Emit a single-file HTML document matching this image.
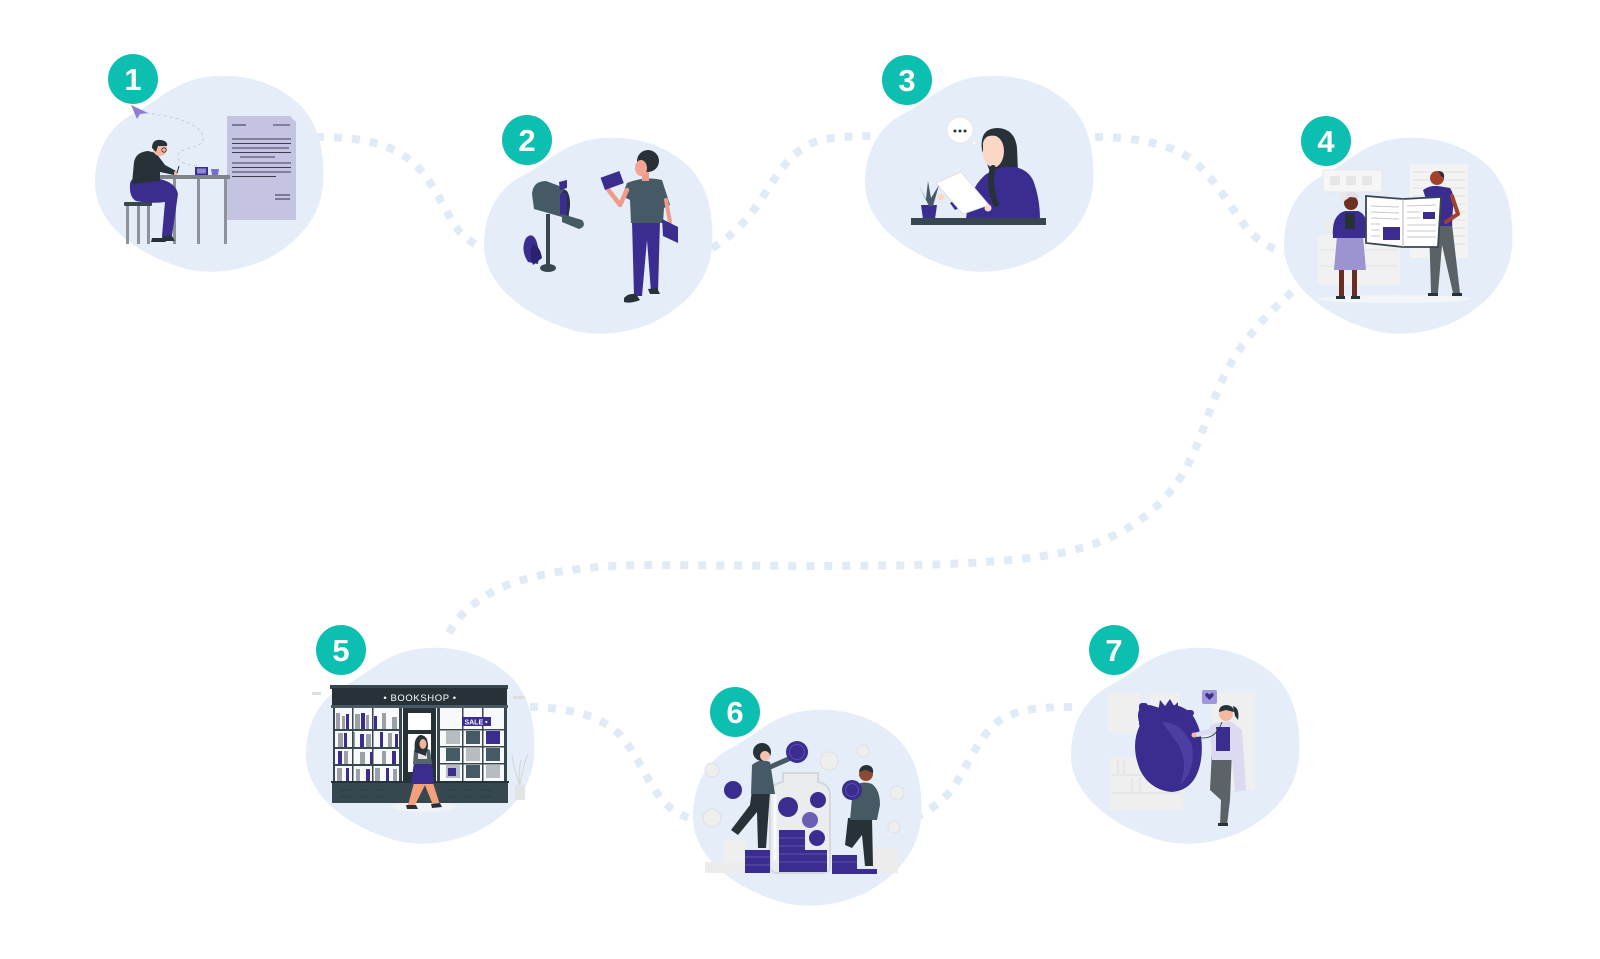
<!DOCTYPE html>
<html><head><meta charset="utf-8"><style>
html,body{margin:0;padding:0;background:#fff;}
svg{display:block}
text{font-family:"Liberation Sans",sans-serif}
</style></head><body>
<svg width="1600" height="959" viewBox="0 0 1600 959" xmlns="http://www.w3.org/2000/svg">
<defs>
<path id="blob" d="M0,108 C0,75 15,50 40,38 C60,28 75,10 105,3 C140,-4 180,5 205,30 C225,50 230,80 228,110 C225,145 200,170 170,185 C140,198 110,200 85,192 C45,180 0,150 0,108 Z"/>
</defs>
<rect width="1600" height="959" fill="#fff"/>

<!-- connectors -->
<g fill="none" stroke="#e0ebf8" stroke-width="8" stroke-dasharray="8 10">
<path d="M316,137 C350,137 385,140 410,160 C435,180 445,215 460,232 C468,240 475,245 484,249"/>
<path d="M712,248 C730,238 748,220 762,198 C780,170 795,145 825,139 C845,136 860,136 878,136"/>
<path d="M1095,137 C1130,137 1170,142 1195,162 C1220,185 1235,215 1250,232 C1260,242 1270,248 1284,253"/>
<path d="M1292,292 C1260,320 1235,350 1220,385 C1205,420 1195,460 1175,485 C1150,520 1110,545 1050,555 C990,565 900,566 800,566 L650,565 C580,565 530,575 500,588 C475,600 458,615 448,635"/>
<path d="M530,707 C570,708 600,715 620,735 C640,758 648,785 665,803 C672,810 680,815 692,819"/>
<path d="M915,818 C930,810 945,800 955,785 C970,760 980,735 1000,720 C1020,708 1045,707 1073,707"/>
</g>

<!-- blobs -->
<g fill="#e4edf8">
<use href="#blob" x="95" y="75"/>
<use href="#blob" x="484" y="137"/>
<use href="#blob" x="865" y="75"/>
<use href="#blob" x="1284" y="137"/>
<use href="#blob" x="306" y="647"/>
<use href="#blob" x="693" y="709"/>
<use href="#blob" x="1071" y="647"/>
</g>

<!-- ===== Illustration 1 ===== -->
<g>
<path d="M146,113 C175,116 200,124 203,136 C206,148 188,146 180,152 C172,160 186,166 200,166" fill="none" stroke="#c3ccd8" stroke-width="1" stroke-dasharray="3 3"/>
<polygon points="131,105 148,113 140,114 137,119" fill="#8b7fd3"/>
<path d="M227,116 H290 L296,122 V220 H227 Z" fill="#c5c3e2"/>
<g stroke="#3d3d52" stroke-width="1.1">
<line x1="232" y1="125" x2="246" y2="125"/><line x1="273" y1="125" x2="290" y2="125"/>
<line x1="232" y1="139" x2="291" y2="139"/>
<line x1="232" y1="143.5" x2="291" y2="143.5"/>
<line x1="232" y1="148" x2="289" y2="148"/>
<line x1="232" y1="152.5" x2="291" y2="152.5"/>
<line x1="240" y1="157" x2="275" y2="157"/>
<line x1="232" y1="163" x2="291" y2="163"/>
<line x1="232" y1="167.5" x2="291" y2="167.5"/>
<line x1="232" y1="172" x2="291" y2="172"/>
<line x1="232" y1="176.5" x2="276" y2="176.5"/>
<line x1="275" y1="195" x2="290" y2="195"/>
<line x1="275" y1="199" x2="290" y2="199"/>
</g>
<rect x="143" y="175" width="87" height="4" fill="#7d8489"/>
<rect x="147" y="179" width="3" height="65" fill="#8d9398"/>
<rect x="173" y="179" width="3" height="65" fill="#8d9398"/>
<rect x="197" y="179" width="3" height="65" fill="#8d9398"/>
<rect x="224" y="179" width="3" height="65" fill="#8d9398"/>
<rect x="124" y="202" width="28" height="4" rx="1" fill="#37474f"/>
<rect x="126" y="206" width="3" height="38" fill="#8d9398"/>
<rect x="137" y="206" width="3" height="38" fill="#8d9398"/>
<rect x="147" y="206" width="3" height="38" fill="#8d9398"/>
<path d="M130,184 Q131,177 140,177 L160,179 Q176,183 178,194 L172,236 L162,236 L165,202 Q150,204 136,201 Q129,197 130,184 Z" fill="#3a2d8d"/>
<path d="M132,184 L134,162 Q136,152 148,151 L156,153 L165,165 L176,171 L174,175 L160,172 L160,181 Z" fill="#263238"/>
<circle cx="160" cy="149" r="7" fill="#f2b79e"/>
<path d="M152,148 Q152,139 161,140 Q168,141 167,146 L158,146 L156,152 Z" fill="#263238"/>
<circle cx="164" cy="150" r="2.2" fill="none" stroke="#263238" stroke-width="0.8"/>
<circle cx="176" cy="173" r="2" fill="#f2b79e"/>
<line x1="177" y1="173" x2="179" y2="166" stroke="#263238" stroke-width="1"/>
<path d="M152,238 L164,238 L166,242 L151,242 Z" fill="#263238"/>
<path d="M162,236 L172,236 L175,241 L163,241 Z" fill="#263238"/>
<rect x="195" y="167" width="13" height="8" fill="#3b2d8f"/>
<rect x="197" y="168.5" width="9" height="5" fill="#8d8ad0"/>
<path d="M211,169 H219 L218,175 H212 Z" fill="#7b6fcd"/>
</g>

<!-- ===== Illustration 2 ===== -->
<g>
<path d="M528,262 Q520,250 526,238 Q532,232 536,240 Q540,250 538,264 Z" fill="#3b2d8f"/>
<path d="M533,265 Q528,252 533,244 Q540,246 542,258 Z" fill="#2c2170"/>
<rect x="546" y="214" width="4" height="52" fill="#37474f"/>
<ellipse cx="548" cy="268" rx="8" ry="4" fill="#37474f"/>
<path d="M532,194 Q533,181 546,181 L562,187 Q569,192 569,202 L569,219 L534,209 Z" fill="#455a64"/>
<ellipse cx="565" cy="204" rx="5" ry="14" fill="#263238"/>
<rect x="560" y="193" width="7" height="22" rx="2" fill="#3b2d8f"/>
<path d="M562,214 L582,220 Q587,226 579,229 L562,222 Z" fill="#455a64"/>
<polygon points="559,182 567,180 567,188 560,190" fill="#3b2d8f"/>
<!-- man -->
<path d="M632,221 L660,221 L658,292 L651,292 L647,240 L642,296 L634,296 Z" fill="#3b2d8f"/>
<path d="M624,298 Q628,293 636,294 L640,300 Q630,304 624,302 Z" fill="#263238"/>
<path d="M648,289 L657,288 L660,294 L650,294 Z" fill="#263238"/>
<path d="M627,183 Q645,176 662,180 L670,205 L664,208 L663,223 L631,223 L630,200 L622,196 Z" fill="#455a64"/>
<path d="M627,190 L620,205 L607,188" fill="none" stroke="#f09a8a" stroke-width="4.5" stroke-linecap="round" stroke-linejoin="round"/>
<path d="M666,200 L670,222" fill="none" stroke="#f09a8a" stroke-width="4" stroke-linecap="round"/>
<rect x="602" y="174" width="20" height="13" fill="#3b2d8f" transform="rotate(-20 612 180)"/>
<polygon points="662,219 678,227 678,243 663,236" fill="#3b2d8f"/>
<rect x="642" y="172" width="7" height="9" fill="#f09a8a"/>
<ellipse cx="648" cy="161" rx="11" ry="11" fill="#263238"/>
<ellipse cx="641" cy="168" rx="6" ry="8" fill="#f2a591"/>
</g>

<!-- ===== Illustration 3 ===== -->
<g>
<circle cx="960" cy="130" r="13" fill="#fff" stroke="#e6e6e6" stroke-width="1"/>
<circle cx="955" cy="131" r="1.5" fill="#263238"/>
<circle cx="960" cy="131" r="1.5" fill="#263238"/>
<circle cx="965" cy="131" r="1.5" fill="#263238"/>
<circle cx="974" cy="143" r="2" fill="#fff" stroke="#ddd" stroke-width="0.6"/>
<path d="M982,150 Q979,128 998,128 Q1015,129 1017,148 L1018,172 L1004,174 L990,172 Z" fill="#263238"/>
<path d="M966,220 Q968,190 985,175 Q995,168 1005,167 Q1025,165 1033,180 Q1040,198 1040,220 Z" fill="#3b2d8f"/>
<path d="M983,143 Q985,134 996,136 Q1004,140 1004,152 Q1003,165 994,168 Q985,166 983,155 Z" fill="#fbd7c6"/>
<path d="M993,168 Q988,185 996,204" stroke="#263238" stroke-width="6" fill="none" stroke-linecap="round"/>
<path d="M985,195 L955,210 L950,203 L980,186 Z" fill="#3b2d8f"/>
<polygon points="936,183 961,172 989,205 963,214" fill="#fff" stroke="#dcdcdc" stroke-width="0.8"/>
<circle cx="941" cy="197" r="3.5" fill="#fbd7c6"/>
<circle cx="988" cy="208" r="3.5" fill="#fbd7c6"/>
<polygon points="921,205 937,205 935,219 923,219" fill="#3b2d8f"/>
<path d="M929,206 L919,186 L926,199 L928,181 L931,198 L939,185 L933,206 Z" fill="#455a64"/>
<rect x="911" y="218" width="135" height="7" fill="#37474f"/>
</g>

<!-- ===== Illustration 4 ===== -->
<g>
<rect x="1410" y="164" width="58" height="94" fill="#f3f3f3"/>
<g stroke="#e2e2e2" stroke-width="1">
<line x1="1413" y1="172" x2="1465" y2="172"/><line x1="1413" y1="180" x2="1465" y2="180"/>
<line x1="1413" y1="188" x2="1465" y2="188"/><line x1="1413" y1="196" x2="1465" y2="196"/>
<line x1="1413" y1="204" x2="1465" y2="204"/><line x1="1413" y1="212" x2="1465" y2="212"/>
<line x1="1413" y1="220" x2="1465" y2="220"/><line x1="1413" y1="228" x2="1465" y2="228"/>
<line x1="1413" y1="236" x2="1465" y2="236"/><line x1="1413" y1="244" x2="1465" y2="244"/>
</g>
<rect x="1323" y="170" width="59" height="22" fill="#f6f6f6" stroke="#e6e6e6"/>
<rect x="1330" y="176" width="10" height="9" fill="#e6e6e6"/>
<rect x="1346" y="176" width="10" height="9" fill="#e6e6e6"/>
<rect x="1362" y="176" width="10" height="9" fill="#e6e6e6"/>
<rect x="1318" y="235" width="82" height="50" fill="#f1f1f1"/>
<line x1="1320" y1="250" x2="1398" y2="250" stroke="#e4e4e4"/>
<line x1="1320" y1="266" x2="1398" y2="266" stroke="#e4e4e4"/>
<circle cx="1331" cy="227" r="8" fill="#ececec"/>
<ellipse cx="1395" cy="299" rx="76" ry="4" fill="#f3f5f8"/>
<!-- old woman -->
<path d="M1337,236 L1363,236 L1366,270 L1334,270 Z" fill="#9c94d0"/>
<rect x="1339" y="270" width="5" height="27" fill="#6b2c22"/>
<rect x="1352" y="270" width="5" height="27" fill="#6b2c22"/>
<rect x="1336" y="296" width="9" height="3" fill="#263238"/>
<rect x="1351" y="296" width="9" height="3" fill="#263238"/>
<path d="M1333,238 Q1331,215 1345,211 L1358,211 Q1366,214 1367,225 L1365,238 Z" fill="#3b2d8f"/>
<rect x="1345" y="213" width="10" height="16" fill="#263238"/>
<circle cx="1351" cy="203" r="7" fill="#6f3024"/>
<path d="M1343,202 Q1343,192 1352,192 Q1358,193 1359,198 L1350,197 Z" fill="#e0e0e0"/>
<circle cx="1343" cy="196" r="3.5" fill="#e8e8e8"/>
<!-- man -->
<path d="M1429,224 L1452,224 L1460,293 L1453,293 L1442,245 L1438,293 L1431,293 Z" fill="#5a6268"/>
<rect x="1428" y="293" width="10" height="3" fill="#263238"/>
<rect x="1452" y="293" width="10" height="3" fill="#263238"/>
<path d="M1423,190 Q1430,185 1438,186 L1450,188 Q1455,195 1453,208 L1452,226 L1428,226 L1428,205 Z" fill="#3b2d8f"/>
<path d="M1452,196 L1458,214 L1446,222" fill="none" stroke="#a4412e" stroke-width="4" stroke-linecap="round" stroke-linejoin="round"/>
<circle cx="1437" cy="178" r="7" fill="#a4412e"/>
<path d="M1438,171 Q1445,171 1444,178 L1441,176 Z" fill="#263238"/>
<!-- newspaper -->
<path d="M1366,196 L1403,199 L1441,197 L1438,247 L1403,247 L1366,243 Z" fill="#fff" stroke="#37474f" stroke-width="1.8"/>
<line x1="1403" y1="199" x2="1403" y2="247" stroke="#b5b5b5"/>
<g stroke="#c8c8c8" stroke-width="1">
<line x1="1371" y1="206" x2="1399" y2="207"/><line x1="1371" y1="212" x2="1399" y2="213"/>
<line x1="1371" y1="218" x2="1399" y2="219"/><line x1="1371" y1="224" x2="1380" y2="224"/>
<line x1="1371" y1="230" x2="1380" y2="230"/><line x1="1371" y1="236" x2="1380" y2="236"/>
<line x1="1407" y1="206" x2="1436" y2="205"/><line x1="1407" y1="212" x2="1420" y2="212"/>
<line x1="1407" y1="218" x2="1420" y2="218"/><line x1="1407" y1="225" x2="1436" y2="225"/>
<line x1="1407" y1="231" x2="1436" y2="231"/><line x1="1407" y1="237" x2="1436" y2="237"/>
</g>
<rect x="1383" y="227" width="17" height="13" fill="#3b2d8f"/>
<rect x="1423" y="212" width="12" height="7" fill="#3b2d8f"/>
</g>

<!-- ===== Illustration 5 (bookshop) ===== -->
<g>
<rect x="312" y="692" width="9" height="3" fill="#dedede"/>
<rect x="513" y="696" width="12" height="3" fill="#dedede"/>
<ellipse cx="424" cy="807" rx="33" ry="5" fill="#f0f2f5"/>
<rect x="330" y="685" width="178" height="4" fill="#37474f"/>
<rect x="332" y="688" width="175" height="18" fill="#263238"/>
<text x="420" y="701" text-anchor="middle" font-size="9.5" fill="#fff" letter-spacing="0.6">• BOOKSHOP •</text>
<rect x="331" y="705" width="177" height="3" fill="#455a64"/>
<rect x="333" y="708" width="174" height="74" fill="#f8f9fa"/>
<g fill="#9aa0a6">
<rect x="336" y="713" width="4" height="16"/><rect x="342" y="716" width="3" height="13"/><rect x="355" y="714" width="5" height="15"/>
<rect x="366" y="715" width="3" height="14"/><rect x="382" y="713" width="4" height="16"/><rect x="392" y="717" width="5" height="12"/>
<rect x="338" y="733" width="5" height="14"/><rect x="352" y="732" width="3" height="15"/><rect x="366" y="734" width="5" height="13"/>
<rect x="388" y="733" width="4" height="14"/><rect x="344" y="751" width="4" height="13"/><rect x="360" y="752" width="5" height="12"/>
<rect x="382" y="751" width="4" height="13"/><rect x="337" y="768" width="5" height="13"/><rect x="356" y="769" width="4" height="12"/>
<rect x="375" y="768" width="5" height="13"/><rect x="393" y="769" width="4" height="12"/>
</g>
<g fill="#3b2d8f">
<rect x="346" y="714" width="3" height="15"/><rect x="361" y="713" width="4" height="16"/><rect x="374" y="716" width="3" height="13"/>
<rect x="344" y="733" width="3" height="14"/><rect x="360" y="734" width="4" height="13"/><rect x="380" y="732" width="3" height="15"/>
<rect x="395" y="734" width="3" height="13"/><rect x="338" y="751" width="4" height="13"/><rect x="370" y="752" width="3" height="12"/>
<rect x="392" y="751" width="4" height="13"/><rect x="346" y="768" width="3" height="13"/><rect x="366" y="769" width="4" height="12"/>
<rect x="386" y="768" width="3" height="13"/>
</g>
<g fill="#37474f">
<rect x="334" y="729" width="68" height="2"/><rect x="334" y="747" width="68" height="2"/><rect x="334" y="764" width="68" height="2"/>
<rect x="352" y="708" width="1.5" height="74"/><rect x="372" y="708" width="1.5" height="74"/><rect x="399" y="708" width="3" height="74"/>
<rect x="333" y="708" width="2" height="74"/>
</g>
<rect x="403" y="708" width="33" height="93" fill="#263238"/>
<rect x="408" y="713" width="23" height="17" fill="#fff"/>
<rect x="408" y="734" width="23" height="38" fill="#fff"/>
<rect x="437" y="708" width="3" height="74" fill="#37474f"/>
<rect x="504" y="708" width="3" height="74" fill="#37474f"/>
<g fill="#b7bcc1">
<rect x="446" y="731" width="14" height="13"/><rect x="466" y="748" width="14" height="13"/><rect x="446" y="765" width="14" height="13"/>
<rect x="486" y="765" width="14" height="13"/>
</g>
<g fill="#455a64">
<rect x="446" y="748" width="14" height="13"/><rect x="466" y="731" width="14" height="13"/><rect x="486" y="748" width="14" height="13"/>
<rect x="466" y="765" width="14" height="13"/>
</g>
<rect x="486" y="731" width="14" height="13" fill="#3b2d8f"/>
<rect x="448" y="768" width="8" height="8" fill="#3b2d8f"/>
<g fill="#37474f">
<rect x="440" y="729" width="64" height="1.5"/><rect x="440" y="746" width="64" height="1.5"/><rect x="440" y="763" width="64" height="1.5"/>
<rect x="462" y="708" width="1.5" height="74"/><rect x="482" y="708" width="1.5" height="74"/>
</g>
<rect x="462" y="717" width="29" height="9" fill="#3b2d8f"/>
<text x="476" y="724.5" font-size="7" fill="#fff" text-anchor="middle" font-weight="bold">SALE •</text>
<rect x="331" y="781" width="178" height="2" fill="#263238"/>
<rect x="332" y="783" width="176" height="20" fill="#37474f"/>
<g stroke="#2c3a40" stroke-width="0.8" fill="none">
<path d="M340,790 h10 M358,790 h10 M376,790 h10 M446,790 h10 M464,790 h10 M482,790 h10 M340,797 h10 M358,797 h10 M376,797 h10 M446,797 h10 M464,797 h10 M482,797 h10"/>
</g>
<path d="M520,786 Q514,770 512,755 M520,786 Q522,768 528,754 M520,786 Q518,772 521,760" stroke="#d4d6d8" stroke-width="1" fill="none"/>
<rect x="515" y="785" width="10" height="15" fill="#e2e3e5"/>
<path d="M414,783 L426,783 L415,805 L408,805 Z" fill="#f4a07c"/>
<path d="M424,783 L433,783 L440,805 L433,805 Z" fill="#f4a07c"/>
<path d="M406,805 L416,805 L418,809 L407,809 Z" fill="#263238"/>
<path d="M431,804 L440,803 L442,807 L432,808 Z" fill="#263238"/>
<path d="M414,762 L432,762 L434,784 L411,784 Z" fill="#3b2d8f"/>
<path d="M414,750 Q422,746 430,750 L432,764 L413,764 Z" fill="#56656c"/>
<rect x="418" y="752" width="9" height="7" fill="#e4e4e4"/>
<path d="M415,752 Q413,738 420,735 Q428,735 428,746 L426,756 Z" fill="#263238"/>
<ellipse cx="423" cy="744" rx="3.5" ry="5" fill="#f4b39b"/>
</g>

<!-- ===== Illustration 6 ===== -->
<g>
<g fill="#eeeeee" stroke="#e0e0e0" stroke-width="1">
<circle cx="712" cy="770" r="7"/><circle cx="712" cy="818" r="9"/><circle cx="829" cy="761" r="9"/>
<circle cx="863" cy="751" r="6"/><circle cx="897" cy="793" r="7"/><circle cx="894" cy="827" r="6"/>
</g>
<rect x="705" y="862" width="40" height="11" fill="#ececec"/>
<rect x="724" y="840" width="22" height="23" fill="#efefef"/>
<rect x="873" y="848" width="25" height="25" fill="#ececec"/>
<path d="M783,773 H818 V782 Q830,784 830,796 V866 Q830,873 822,873 H778 Q770,873 770,866 V796 Q770,784 783,782 Z" fill="#eaecef" stroke="#d3d8dd" stroke-width="2"/>
<path d="M775,795 L775,860" stroke="#fafafa" stroke-width="3"/>
<rect x="779" y="830" width="26" height="42" fill="#3b2d8f"/>
<rect x="805" y="850" width="22" height="22" fill="#3b2d8f"/>
<g stroke="#6a5fb2" stroke-width="0.8">
<line x1="779" y1="838" x2="805" y2="838"/><line x1="779" y1="846" x2="805" y2="846"/><line x1="779" y1="854" x2="827" y2="854"/>
<line x1="779" y1="862" x2="827" y2="862"/>
</g>
<circle cx="788" cy="807" r="10" fill="#3b2d8f"/>
<circle cx="818" cy="800" r="8" fill="#3b2d8f"/>
<circle cx="810" cy="820" r="8" fill="#6a5fb2"/>
<circle cx="817" cy="838" r="8" fill="#3b2d8f"/>
<rect x="745" y="850" width="25" height="23" fill="#3b2d8f"/>
<rect x="832" y="855" width="25" height="18" fill="#3b2d8f"/>
<rect x="832" y="869" width="45" height="5" fill="#3b2d8f"/>
<g stroke="#6a5fb2" stroke-width="0.8">
<line x1="745" y1="857" x2="770" y2="857"/><line x1="745" y1="865" x2="770" y2="865"/>
<line x1="832" y1="862" x2="857" y2="862"/>
</g>
<circle cx="733" cy="790" r="9" fill="#3b2d8f"/>
<path d="M752,790 L770,792 L766,848 L758,848 L757,812 L738,835 L731,830 L750,805 Z" fill="#263238"/>
<path d="M752,765 Q760,758 770,762 L775,794 L751,794 Z" fill="#455a64"/>
<path d="M768,768 L793,757" stroke="#455a64" stroke-width="5" stroke-linecap="round"/>
<circle cx="762" cy="752" r="9" fill="#263238"/>
<circle cx="765" cy="756" r="5" fill="#f5c3b0"/>
<circle cx="797" cy="752" r="11" fill="#3b2d8f"/>
<circle cx="797" cy="752" r="7.5" fill="none" stroke="#5a4fb0" stroke-width="1"/>
<path d="M848,818 L872,818 L873,866 L865,866 L862,835 L852,848 L845,845 Z" fill="#263238"/>
<path d="M853,787 Q862,780 872,784 Q880,790 880,805 L877,820 L850,820 Z" fill="#455a64"/>
<circle cx="866" cy="774" r="7" fill="#8c4a33"/>
<path d="M859,772 Q860,765 867,765 Q874,766 873,773 L866,770 Z" fill="#263238"/>
<circle cx="852" cy="790" r="10" fill="#3b2d8f"/>
<circle cx="852" cy="790" r="6.5" fill="none" stroke="#5a4fb0" stroke-width="1"/>
</g>

<!-- ===== Illustration 7 ===== -->
<g>
<rect x="1108" y="693" width="32" height="40" fill="#efefef"/>
<rect x="1150" y="693" width="30" height="34" fill="#efefef"/>
<rect x="1110" y="757" width="73" height="53" fill="#efefef"/>
<g stroke="#dcdcdc" stroke-width="1">
<line x1="1112" y1="775" x2="1181" y2="775"/><line x1="1112" y1="793" x2="1181" y2="793"/>
<line x1="1118" y1="760" x2="1118" y2="774"/><line x1="1124" y1="760" x2="1124" y2="774"/><line x1="1132" y1="778" x2="1132" y2="792"/>
<line x1="1140" y1="778" x2="1140" y2="792"/>
</g>
<rect x="1212" y="692" width="43" height="98" fill="#efefef"/>
<path d="M1140,725 Q1133,706 1150,705 L1160,708 Q1176,700 1191,713 Q1205,732 1201,760 Q1196,790 1172,792 Q1150,790 1140,770 Q1130,745 1140,725 Z" fill="#3b2d8f"/>
<path d="M1162,722 Q1182,722 1192,745 Q1196,770 1180,785 Q1190,760 1175,740 Z" fill="#4b3fa3"/>
<rect x="1139" y="703" width="9" height="24" rx="3" fill="#3b2d8f"/>
<path d="M1158,712 L1160,700 L1165,706 L1170,699 L1174,706 L1178,702 L1178,714 Z" fill="#3b2d8f"/>
<rect x="1180" y="710" width="14" height="6" rx="3" fill="#3b2d8f"/>
<path d="M1212,750 L1232,750 L1230,800 L1227,825 L1220,825 L1221,800 L1210,790 Z" fill="#5b6369"/>
<rect x="1218" y="823" width="10" height="3" fill="#263238"/>
<path d="M1210,726 Q1220,720 1232,722 L1242,730 L1246,790 L1235,792 L1232,760 L1212,760 Z" fill="#dcdaf0"/>
<rect x="1216" y="727" width="14" height="24" fill="#3b2d8f"/>
<path d="M1214,730 L1196,735" stroke="#dcdaf0" stroke-width="5" stroke-linecap="round"/>
<circle cx="1194" cy="735" r="2.5" fill="#f4b9a0"/>
<path d="M1222,722 Q1215,742 1196,737" fill="none" stroke="#263238" stroke-width="0.8"/>
<circle cx="1226" cy="714" r="7" fill="#f4b9a0"/>
<path d="M1219,712 Q1219,705 1227,705 Q1234,706 1234,712 L1226,710 Z" fill="#263238"/>
<path d="M1233,706 Q1240,708 1238,720 L1235,716 Z" fill="#263238"/>
<rect x="1202" y="690" width="15" height="14" rx="2" fill="#9f97d8"/>
<path d="M1209.5,700 L1205.5,696 Q1204.5,693 1207.5,693 L1209.5,694.5 L1211.5,693 Q1214.5,693 1213.5,696 Z" fill="#3b2d8f"/>
</g>

<!-- badges -->
<g font-family="Liberation Sans, sans-serif" font-weight="bold" font-size="31" fill="#fff" text-anchor="middle">
<circle cx="133" cy="79" r="25" fill="#0cbfb0"/><text x="133" y="90">1</text>
<circle cx="527" cy="140" r="25" fill="#0cbfb0"/><text x="527" y="151">2</text>
<circle cx="907" cy="80" r="25" fill="#0cbfb0"/><text x="907" y="91">3</text>
<circle cx="1326" cy="141" r="25" fill="#0cbfb0"/><text x="1326" y="152">4</text>
<circle cx="341" cy="650" r="25" fill="#0cbfb0"/><text x="341" y="661">5</text>
<circle cx="735" cy="712" r="25" fill="#0cbfb0"/><text x="735" y="723">6</text>
<circle cx="1114" cy="650" r="25" fill="#0cbfb0"/><text x="1114" y="661">7</text>
</g>
</svg>
</body></html>
